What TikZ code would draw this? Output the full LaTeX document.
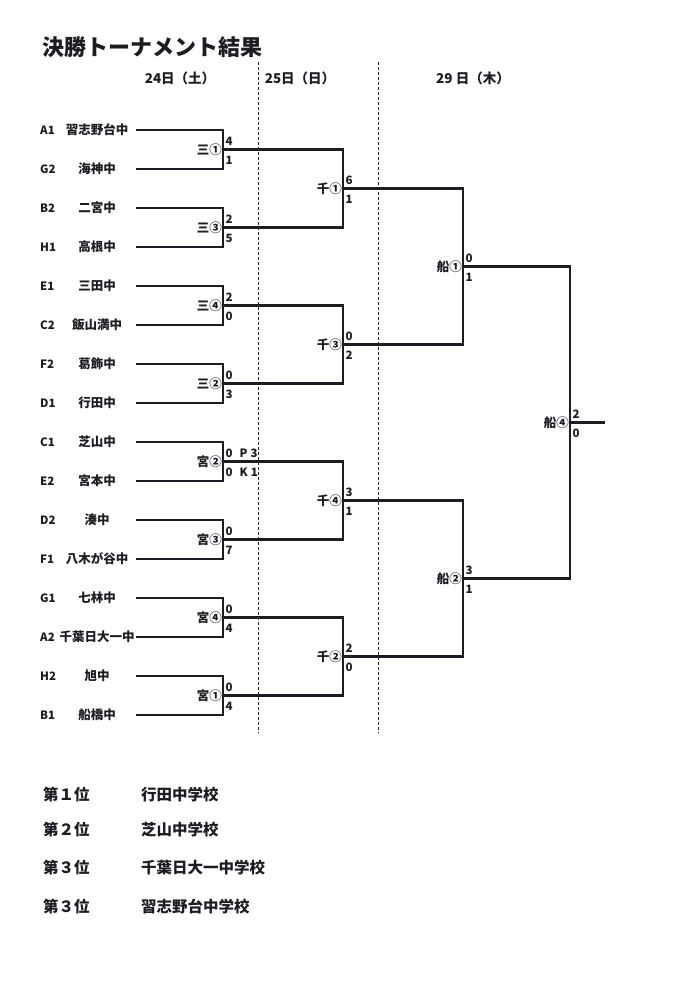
\documentclass[tikz,border=0pt]{standalone}
\usepackage{fontspec}
\setmainfont{Noto Sans CJK JP}
\usetikzlibrary{calc}
\definecolor{ink}{RGB}{28,28,34}
\begin{document}
\begin{tikzpicture}[x=1pt,y=-1pt,
  win/.style={draw=ink,line width=2.9pt,line cap=rect},
  lose/.style={draw=ink,line width=1.3pt,line cap=rect},
  sep/.style={draw=ink,line width=0.9pt,dash pattern=on 3pt off 2pt},
  txt/.style={inner sep=0pt,text=ink},
  code/.style={txt,anchor=west,font=\fontsize{11.5}{11.5}\selectfont\bfseries},
  team/.style={txt,font=\fontsize{12.5}{12.5}\selectfont\bfseries},
  jl/.style={txt,anchor=east,xshift=-1pt,font=\fontsize{12.5}{12.5}\selectfont\bfseries},
  scf/.style={txt,anchor=west,font=\fontsize{11.5}{11.5}\selectfont\bfseries},
  sct/.style={scf,xshift=2.5pt,yshift=8.5pt},
  scb/.style={scf,xshift=2.5pt,yshift=-10.5pt},
  date/.style={txt,font=\fontsize{13.5}{13.5}\selectfont\bfseries},
  rank/.style={txt,anchor=west,font=\fontsize{15.5}{15.5}\selectfont\bfseries},
  ttl/.style={txt,anchor=west,font=\fontsize{22}{22}\selectfont\bfseries}
]
\useasboundingbox (0,0) rectangle (700,1001);
\fill[white] (0,0) rectangle (700,1001);

% title and dates
\node[ttl] (title) at (42,47) {決勝トーナメント結果};
\node[date] (d24) at (180,78) {24日（土）};
\node[date] (d25) at (300,78) {25日（日）};
\node[date] (d29) at (473,78) {29 日（木）};

% day separators
\coordinate (s1t) at (258,62); \coordinate (s1b) at (258,733);
\coordinate (s2t) at (378,62); \coordinate (s2b) at (378,733);
\draw[sep] (s1t) -- (s1b);
\draw[sep] (s2t) -- (s2b);

% teams
\foreach \c/\n [count=\i from 0] in {A1/習志野台中,G2/海神中,B2/二宮中,H1/高根中,E1/三田中,C2/飯山満中,F2/葛飾中,D1/行田中,C1/芝山中,E2/宮本中,D2/湊中,F1/八木が谷中,G1/七林中,A2/千葉日大一中,H2/旭中,B1/船橋中}{
  \pgfmathsetmacro\yy{130+39*\i}
  \node[code] (cd\i) at (40,\yy) {\c};
  \node[team] (tm\i) at (97,\yy) {\n};
  \coordinate (s\i) at (137,\yy);
}

% junctions
\foreach \j in {0,...,7}{\pgfmathsetmacro\yy{149.5+78*\j}\coordinate (ra\j) at (223,\yy);}
\foreach \k in {0,...,3}{\pgfmathsetmacro\yy{188.5+156*\k}\coordinate (rb\k) at (343,\yy);}
\coordinate (rc0) at (463,266.5);
\coordinate (rc1) at (463,578.5);
\coordinate (rd) at (570,422.5);
\coordinate (fin) at (604,422.5);

% round 1
\draw[win] (s0) -| (ra0);  \draw[lose] (s1) -| (ra0);
\draw[lose] (s2) -| (ra1); \draw[win] (s3) -| (ra1);
\draw[win] (s4) -| (ra2);  \draw[lose] (s5) -| (ra2);
\draw[lose] (s6) -| (ra3); \draw[win] (s7) -| (ra3);
\draw[win] (s8) -| (ra4);  \draw[lose] (s9) -| (ra4);
\draw[lose] (s10) -| (ra5); \draw[win] (s11) -| (ra5);
\draw[lose] (s12) -| (ra6); \draw[win] (s13) -| (ra6);
\draw[lose] (s14) -| (ra7); \draw[win] (s15) -| (ra7);

% round 2
\foreach \j/\k in {0/0,1/0,2/1,3/1,4/2,5/2,6/3,7/3}{\draw[win] (ra\j) -- (ra\j -| rb\k);}
\draw[win] (ra0 -| rb0) -- (rb0);  \draw[lose] (ra1 -| rb0) -- (rb0);
\draw[lose] (ra2 -| rb1) -- (rb1); \draw[win] (ra3 -| rb1) -- (rb1);
\draw[win] (ra4 -| rb2) -- (rb2);  \draw[lose] (ra5 -| rb2) -- (rb2);
\draw[win] (ra6 -| rb3) -- (rb3);  \draw[lose] (ra7 -| rb3) -- (rb3);

% round 3
\foreach \k/\l in {0/0,1/0,2/1,3/1}{\draw[win] (rb\k) -- (rb\k -| rc\l);}
\draw[lose] (rb0 -| rc0) -- (rc0); \draw[win] (rb1 -| rc0) -- (rc0);
\draw[win] (rb2 -| rc1) -- (rc1);  \draw[lose] (rb3 -| rc1) -- (rc1);

% final
\draw[win] (rc0) -- (rc0 -| rd);
\draw[win] (rc1) -- (rc1 -| rd);
\draw[win] (rc0 -| rd) -- (rd);
\draw[lose] (rc1 -| rd) -- (rd);
\draw[win] (rd) -- (fin);

% round 1 labels
\foreach \j/\lab/\t/\b in {0/三①/4/1,1/三③/2/5,2/三④/2/0,3/三②/0/3,5/宮③/0/7,6/宮④/0/4,7/宮①/0/4}{
  \node[jl] (la\j) at (ra\j) {\lab};
  \node[sct] (ta\j) at (ra\j) {\t};
  \node[scb] (ba\j) at (ra\j) {\b};
}
\node[jl] (la4) at (ra4) {宮②};
\node[sct] (ta4) at (ra4) {0\hspace{7pt}P\hspace{3pt}3};
\node[scb] (ba4) at (ra4) {0\hspace{7pt}K\hspace{3pt}1};

% round 2 labels
\foreach \k/\lab/\t/\b in {0/千①/6/1,1/千③/0/2,2/千④/3/1,3/千②/2/0}{
  \node[jl] (lb\k) at (rb\k) {\lab};
  \node[sct] (tb\k) at (rb\k) {\t};
  \node[scb] (bb\k) at (rb\k) {\b};
}

% round 3 labels
\node[jl] (lc0) at (rc0) {船①};
\node[sct] (tc0) at (rc0) {0};
\node[scb] (bc0) at (rc0) {1};
\node[jl] (lc1) at (rc1) {船②};
\node[sct] (tc1) at (rc1) {3};
\node[scb] (bc1) at (rc1) {1};

% final labels
\node[jl] (ld) at (rd) {船④};
\node[sct] (td) at (rd) {2};
\node[scb] (bd) at (rd) {0};

% ranking
\node[rank] (p1) at (43,795) {第１位};
\node[rank] (n1) at (141,795) {行田中学校};
\node[rank] (p2) at (43,830) {第２位};
\node[rank] (n2) at (141,830) {芝山中学校};
\node[rank] (p3) at (43,868) {第３位};
\node[rank] (n3) at (141,868) {千葉日大一中学校};
\node[rank] (p4) at (43,907) {第３位};
\node[rank] (n4) at (141,907) {習志野台中学校};
\end{tikzpicture}
\end{document}
